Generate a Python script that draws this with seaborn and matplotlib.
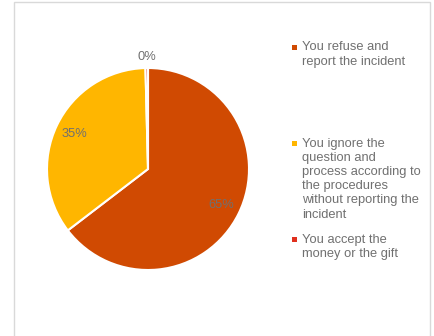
import matplotlib
matplotlib.use("Agg")
import matplotlib.pyplot as plt
from matplotlib.patches import Rectangle
import seaborn as sns

categories = [
    "You refuse and\nreport the incident",
    "You ignore the\nquestion and\nprocess according to\nthe procedures\nwithout reporting the\nincident",
    "You accept the\nmoney or the gift",
]
shares = [64.6, 35.0, 0.4]
colors = ["#D04A02", "#FFB600", "#E0301E"]

sns.set_theme(style="white")
plt.rcParams["font.family"] = ["Liberation Sans", "DejaVu Sans"]

W, H = 434, 336
fig = plt.figure(figsize=(W / 100, H / 100), dpi=100)
fig.patch.set_facecolor("white")

# outer chart frame
fig.patches.append(Rectangle((13.5 / W, -0.01), (430 - 13.5) / W, 1 - 1.5 / H + 0.01,
                             transform=fig.transFigure, fill=False,
                             edgecolor="#D9D9D9", linewidth=1.0))

# pie area: centre (148, 169), radius 101 px
cx, cy, r = 148, 169, 101
ax = fig.add_axes([(cx - r) / W, (H - cy - r) / H, 2 * r / W, 2 * r / H])
wedges, texts, autotexts = ax.pie(
    shares, colors=colors, startangle=90, counterclock=False,
    autopct="%1.0f%%", pctdistance=0.81,
    wedgeprops=dict(edgecolor="white", linewidth=1.5),
    textprops=dict(color="#707070", fontsize=9.3),
)
# the tiny slice gets its label outside the pie
x0, y0 = autotexts[2].get_position()
d = (x0 ** 2 + y0 ** 2) ** 0.5
autotexts[2].set_position((x0 / d * 1.11, y0 / d * 1.11))
ax.set_xlim(-1, 1)
ax.set_ylim(-1, 1)
ax.axis("off")

# legend entries
first_line_y = [47, 143, 239]
for label, color, y in zip(categories, colors, first_line_y):
    fig.patches.append(Rectangle((292 / W, 1 - (y + 2.5) / H), 4.5 / W, 4.5 / H,
                                 transform=fig.transFigure, facecolor=color,
                                 edgecolor="none"))
    fig.text(302 / W, 1 - (y - 5.5) / H, label, ha="left", va="top",
             fontsize=9.3, color="#707070", linespacing=1.25)

fig.savefig("out.png", dpi=100, facecolor="white")
